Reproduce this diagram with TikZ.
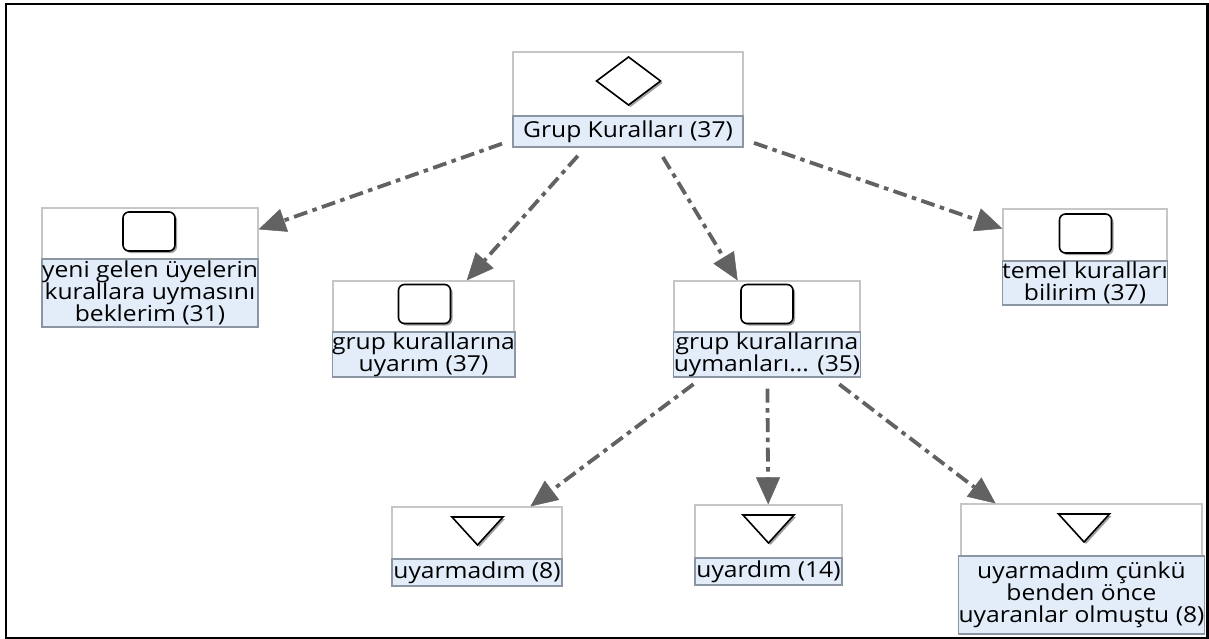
\documentclass[tikz,border=0pt]{standalone}
\usepackage{fontspec}
\setmainfont{Open Sans}[FakeStretch=1.12]
\usetikzlibrary{arrows.meta}
\definecolor{arr}{HTML}{626262}
\definecolor{labfill}{HTML}{E3EDFA}
\definecolor{labdraw}{HTML}{8C96A3}
\definecolor{boxdraw}{HTML}{C6C6C6}
\definecolor{shd}{HTML}{A0A0A0}
\tikzset{
  codebox/.style={draw=boxdraw, line width=1.2pt, fill=white, inner sep=0pt, rectangle},
  labstrip/.style={draw=labdraw, line width=1.2pt, fill=labfill, inner sep=0pt, align=center,
    font=\fontsize{22}{22}\selectfont},
  rel/.style={draw=arr, line width=3.8pt, dash pattern=on 14pt off 5.5pt on 4.5pt off 5.5pt,
    -{Triangle[length=27pt,width=24pt,line width=0.5pt]}, shorten <=11pt},
  icon/.style={draw=black, line width=1.6pt, fill=white, line join=miter},
}
\newcommand{\mysqicon}[1]{%
  \begin{scope}[shift={(#1)}]
    \fill[shd, rounded corners=6pt] (-24,-17.5) rectangle (28,21.5);
    \draw[icon, rounded corners=6pt] (-26,-19.5) rectangle (26,19.5);
  \end{scope}}
\newcommand{\mytriicon}[1]{%
  \begin{scope}[shift={(#1)}]
    \fill[shd] (-23.5,12) -- (27.5,12) -- (2,40) -- cycle;
    \draw[icon] (-25.5,10) -- (25.5,10) -- (0,38) -- cycle;
  \end{scope}}
\begin{document}
\begin{tikzpicture}[x=1pt,y=-1pt]
\useasboundingbox (0,0) rectangle (1209,639);
\fill[white] (0,0) rectangle (1209,639);

% root
\node[codebox, minimum width=230, minimum height=95] (root) at (628,99.5) {};
\node[labstrip, minimum width=230, minimum height=31, anchor=south] (rootL) at (root.south) {Grup Kuralları (37)};
\fill[shd] (630.5,59) -- (662.5,83) -- (630.5,107) -- (598.5,83) -- cycle;
\draw[icon] (628.5,57) -- (660.5,81) -- (628.5,105) -- (596.5,81) -- cycle;

% A
\node[codebox, minimum width=216, minimum height=119] (A) at (150,267.5) {};
\node[labstrip, minimum width=216, minimum height=68, anchor=south] (AL) at (A.south) {yeni gelen üyelerin\\kurallara uymasını\\beklerim (31)};
\mysqicon{149,231.5}

% B
\node[codebox, minimum width=181, minimum height=96] (B) at (423.5,329) {};
\node[labstrip, minimum width=181, minimum height=45, anchor=south] (BL) at (B.south) {grup kurallarına\\uyarım (37)};
\mysqicon{424.5,304}

% C
\node[codebox, minimum width=186, minimum height=96] (C) at (767,329) {};
\node[labstrip, minimum width=186, minimum height=45, anchor=south] (CL) at (C.south) {grup kurallarına\\uymanları... (35)};
\mysqicon{767,304}

% D
\node[codebox, minimum width=164, minimum height=96] (D) at (1085,257) {};
\node[labstrip, minimum width=164, minimum height=44, anchor=south] (DL) at (D.south) {temel kuralları\\bilirim (37)};
\mysqicon{1085.5,233.5}

% E
\node[codebox, minimum width=170, minimum height=79] (E) at (477,546.5) {};
\node[labstrip, minimum width=170, minimum height=27, anchor=south] (EL) at (E.south) {uyarmadım (8)};
\mytriicon{477.5,507}

% F
\node[codebox, minimum width=147, minimum height=80] (F) at (768.5,545) {};
\node[labstrip, minimum width=147, minimum height=27, anchor=south] (FL) at (F.south) {uyardım (14)};
\mytriicon{768.5,505}

% G
\node[codebox, minimum width=241, minimum height=130] (G) at (1081.5,569) {};
\node[labstrip, minimum width=241, minimum height=78, anchor=south] (GL) at (G.south) {uyarmadım çünkü\\benden önce\\uyaranlar olmuştu (8)};
\mytriicon{1084,504}

% connectors
\draw[rel] (root) -- (A);
\draw[rel] (root) -- (B);
\draw[rel] (root) -- (C);
\draw[rel] (root) -- (D);
\draw[rel] (C) -- (E);
\draw[rel] (C) -- (F);
\draw[rel] (C) -- (G);

% frame
\draw[line width=2.5pt] (6,4) rectangle (1207.5,638);
\end{tikzpicture}
\end{document}
